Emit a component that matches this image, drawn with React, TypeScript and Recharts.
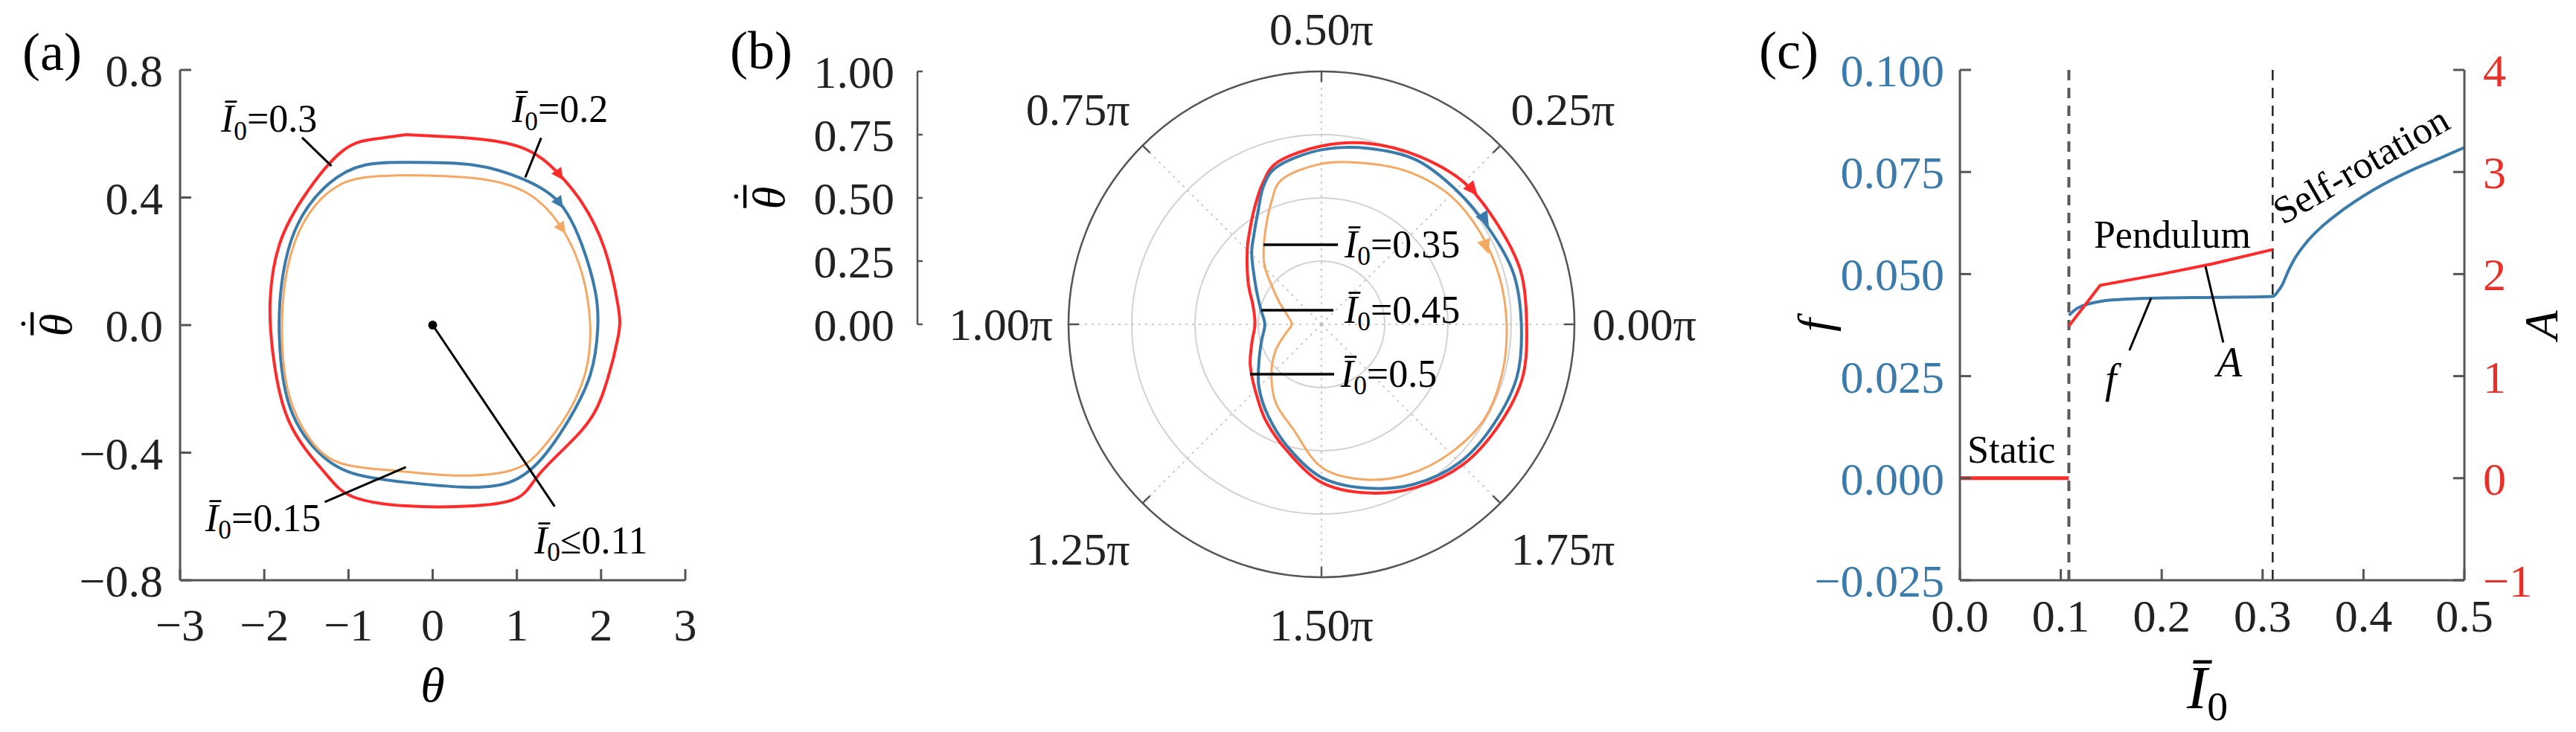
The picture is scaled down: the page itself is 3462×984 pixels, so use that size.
import React from 'react';
import {
  ComposedChart,
  LineChart,
  Line,
  XAxis,
  YAxis,
  Label,
  ReferenceLine,
  ReferenceDot,
  RadarChart,
  Radar,
  PolarGrid,
  PolarAngleAxis,
  PolarRadiusAxis,
} from 'recharts';

const SERIF = 'Liberation Serif, Tinos, DejaVu Serif, Noto Serif, serif';
const RED = '#ff2a2a';
const BLUE = '#3b7bab';
const ORANGE = '#f5a863';
const FRAME = '#555555';
const INK = '#222222';
const TICK_FONT = 62;
const NOTE_FONT = 52;

// ---------- (a) phase loops: theta vs theta-dot ----------
const thetaRed = [-0.32, 0.21, 1.02, 1.5, 1.77, 2.04, 2.2, 2.2, 2.04, 1.77, 1.29, 1.02, 0.48, -0.32, -0.96, -1.29, -1.71, -1.9, -1.93, -1.82, -1.5, -1.07, -0.7, -0.32];
const omegaRed = [0.597, 0.59, 0.56, 0.473, 0.385, 0.24, 0.063, -0.04, -0.2, -0.33, -0.46, -0.54, -0.567, -0.567, -0.537, -0.46, -0.3, -0.083, 0.078, 0.253, 0.414, 0.546, 0.583, 0.597];
const thetaBlue = [-0.32, 0.48, 1.07, 1.5, 1.77, 1.93, 1.96, 1.87, 1.61, 1.29, 0.91, 0.375, -0.32, -0.96, -1.39, -1.71, -1.82, -1.79, -1.61, -1.23, -0.8, -0.32];
const omegaBlue = [0.51, 0.502, 0.458, 0.385, 0.253, 0.107, -0.01, -0.157, -0.3, -0.42, -0.493, -0.508, -0.493, -0.464, -0.39, -0.245, -0.04, 0.136, 0.312, 0.444, 0.502, 0.51];
const thetaOrange = [-0.32, 0.48, 1.12, 1.53, 1.77, 1.87, 1.82, 1.61, 1.29, 0.91, 0.21, -0.43, -1.07, -1.45, -1.71, -1.79, -1.71, -1.45, -1.07, -0.7, -0.32];
const omegaOrange = [0.47, 0.461, 0.414, 0.305, 0.165, 0.004, -0.142, -0.274, -0.39, -0.457, -0.471, -0.457, -0.435, -0.36, -0.215, -0.01, 0.195, 0.356, 0.444, 0.466, 0.47];
const thetaTicksA = [-3, -2, -1, 0, 1, 2, 3];
const omegaTicksA = [-0.8, -0.4, 0, 0.4, 0.8];

// labels in (a): text anchor, leader start, leader end
const notesA = [
  { tail: '=0.3', tx: -2.514, ty: 0.606, x1: -1.551, y1: 0.588, x2: -1.202, y2: 0.499 },
  { tail: '=0.2', tx: 0.941, ty: 0.636, x1: 1.288, y1: 0.587, x2: 1.1, y2: 0.463 },
  { tail: '=0.15', tx: -2.7, ty: -0.646, x1: -1.282, y1: -0.555, x2: -0.318, y2: -0.445 },
  { tail: '\u22640.11', tx: 1.206, ty: -0.716, x1: 0.0, y1: 0.0, x2: 1.449, y2: -0.569 },
];
const arrowTheta = [1.5, 1.5, 1.53];
const arrowOmega = [0.473, 0.385, 0.305];
const arrowColors = [RED, BLUE, ORANGE];

// ---------- (b) polar loops ----------
const phiDeg = [0, 15, 30, 45, 60, 75, 90, 105, 112.5, 120, 127.5, 135, 150, 165, 180, 195, 210, 225, 240, 255, 270, 285, 300, 315, 330, 345];
const rRed = [0.811, 0.815, 0.8, 0.795, 0.768, 0.74, 0.705, 0.665, 0.605, 0.53, 0.466, 0.415, 0.335, 0.28, 0.263, 0.285, 0.325, 0.37, 0.44, 0.52, 0.625, 0.69, 0.745, 0.787, 0.806, 0.822];
const rBlue = [0.79, 0.785, 0.762, 0.752, 0.75, 0.72, 0.69, 0.65, 0.595, 0.505, 0.44, 0.39, 0.3, 0.25, 0.224, 0.245, 0.285, 0.35, 0.42, 0.505, 0.605, 0.67, 0.73, 0.772, 0.787, 0.8];
const rOrange = [0.732, 0.728, 0.725, 0.72, 0.695, 0.66, 0.635, 0.595, 0.52, 0.44, 0.375, 0.315, 0.2, 0.14, 0.118, 0.148, 0.21, 0.28, 0.36, 0.43, 0.565, 0.635, 0.685, 0.72, 0.745, 0.74];
const radialTicks = [0, 0.25, 0.5, 0.75, 1];
const spokeAngles = [0, 45, 90, 135, 180, 225, 270, 315];
const polarData = phiDeg.map((phi, i) => ({ phi, red: rRed[i], blue: rBlue[i], orange: rOrange[i] }));

const noteBTail = ['=0.35', '=0.45', '=0.5'];
const noteBY = [0.315, 0.056, -0.197];
const noteBFromX = [-0.229, -0.238, -0.282];
const noteBToX = [0.065, 0.047, 0.05];
const noteBTextX = [0.091, 0.091, 0.076];
// direction markers on the polar loops (x, y in units of the outer radius)
const arrowBX = [0.595, 0.644, 0.649];
const arrowBY = [0.535, 0.418, 0.311];

// ---------- (c) frequency and amplitude ----------
const staticI = [0, 0.108];
const staticA = [0, 0];
const pendI = [0.108, 0.139, 0.2, 0.25, 0.31];
const pendA = [1.49, 1.89, 2.0, 2.1, 2.24];
const freqI = [0.108, 0.115, 0.125, 0.139, 0.16, 0.19, 0.25, 0.31, 0.315, 0.32, 0.325, 0.33, 0.345, 0.36, 0.38, 0.405, 0.45, 0.475, 0.5];
const freqF = [0.0399, 0.0414, 0.0425, 0.0433, 0.0438, 0.0441, 0.0443, 0.0445, 0.0457, 0.0476, 0.0505, 0.053, 0.0582, 0.0619, 0.0658, 0.0699, 0.0757, 0.0783, 0.081];
const boundaries = [0.108, 0.31];
const iTicks = [0, 0.1, 0.2, 0.3, 0.4, 0.5];
const fTicks = [-0.025, 0, 0.025, 0.05, 0.075, 0.1];
const aTicks = [-1, 0, 1, 2, 3, 4];

const pairs = (xs: number[], ys: number[]) => xs.map((x, i) => ({ x, y: ys[i] }));
const signed = (digits: number) => (v: number) => (v < 0 ? '\u2212' : '') + Math.abs(v).toFixed(digits);

const frameLine = { stroke: FRAME, strokeWidth: 3 };

function IZero({ x, y, tail, size = NOTE_FONT }: { x: number; y: number; tail: string; size?: number }) {
  return (
    <text x={x} y={y} fontFamily={SERIF} fontSize={size} fill="#000">
      <tspan fontStyle="italic">{'\u012A'}</tspan>
      <tspan fontSize={size * 0.68} dy={size * 0.2}>0</tspan>
      <tspan dy={-size * 0.2}>{tail}</tspan>
    </text>
  );
}

// rotated theta with a bar and a dot above it (dimensionless angular velocity)
const thetaDotTitle = (dx: number, size = 62) => (p: any) => {
  const vb = p.viewBox;
  const x = vb.x + dx;
  const y = vb.y + vb.height / 2;
  const base = y + size * 0.33;
  return (
    <g transform={`rotate(-90 ${x} ${y})`}>
      <text x={x} y={base} textAnchor="middle" fontFamily={SERIF} fontStyle="italic" fontSize={size} fill="#000">
        {'\u03B8'}
      </text>
      <line x1={x - size * 0.22} x2={x + size * 0.28} y1={base - size * 0.86} y2={base - size * 0.86} stroke="#000" strokeWidth={size * 0.07} />
      <circle cx={x + size * 0.03} cy={base - size * 1.05} r={size * 0.045} fill="#000" />
    </g>
  );
};

const yTitle = (dx: number, text: string, size = 64) => (p: any) => {
  const vb = p.viewBox;
  const x = vb.x + dx;
  const y = vb.y + vb.height / 2;
  return (
    <text x={x} y={y} transform={`rotate(-90 ${x} ${y})`} textAnchor="middle" dominantBaseline="central"
      fontFamily={SERIF} fontStyle="italic" fontSize={size} fill="#000">
      {text}
    </text>
  );
};

const xTitle = (dy: number, text: string, size = 66) => (p: any) => {
  const vb = p.viewBox;
  return (
    <text x={vb.x + vb.width / 2} y={vb.y + dy} textAnchor="middle" dominantBaseline="central"
      fontFamily={SERIF} fontStyle="italic" fontSize={size} fill="#000">
      {text}
    </text>
  );
};

const arrowHead = (color: string, headingDeg = 55, L = 16, W = 8) => (p: any) => {
  const { cx, cy } = p;
  const a = (headingDeg * Math.PI) / 180; // screen heading, clockwise from +x
  const ux = Math.cos(a), uy = Math.sin(a);
  const tip = [cx + ux * L * 0.6, cy + uy * L * 0.6];
  const b1 = [cx - ux * L * 0.4 - uy * W, cy - uy * L * 0.4 + ux * W];
  const b2 = [cx - ux * L * 0.4 + uy * W, cy - uy * L * 0.4 - ux * W];
  return <polygon points={`${tip} ${b1} ${b2}`} fill={color} />;
};

function PanelA() {
  return (
    <ComposedChart width={950} height={984} margin={{ top: 94, right: 29, bottom: 54, left: 42 }}>
      <XAxis dataKey="x" type="number" domain={[-3, 3]} ticks={thetaTicksA} interval={0} height={150}
        allowDataOverflow tickFormatter={signed(0)} tickSize={-15} tickMargin={52}
        axisLine={frameLine} tickLine={frameLine} tick={{ fill: INK, fontSize: TICK_FONT, fontFamily: SERIF }}>
        <Label content={xTitle(140, '\u03B8')} />
      </XAxis>
      <XAxis xAxisId="top" orientation="top" type="number" domain={[-3, 3]} ticks={thetaTicksA} interval={0}
        height={0} tick={false} tickSize={-15} axisLine={frameLine} tickLine={frameLine} />
      <YAxis type="number" domain={[-0.8, 0.8]} ticks={omegaTicksA} interval={0} width={200} allowDataOverflow
        tickFormatter={signed(1)} tickSize={-15} tickMargin={38}
        axisLine={frameLine} tickLine={frameLine} tick={{ fill: INK, fontSize: TICK_FONT, fontFamily: SERIF }}>
        <Label content={thetaDotTitle(34)} />
      </YAxis>
      <YAxis yAxisId="right" orientation="right" type="number" domain={[-0.8, 0.8]} ticks={omegaTicksA} interval={0}
        width={0} tick={false} tickSize={-15} axisLine={frameLine} tickLine={frameLine} />

      <Line data={pairs(thetaRed, omegaRed)} dataKey="y" type="natural" stroke={RED} strokeWidth={4}
        dot={false} activeDot={false} isAnimationActive={false} />
      <Line data={pairs(thetaBlue, omegaBlue)} dataKey="y" type="natural" stroke={BLUE} strokeWidth={4}
        dot={false} activeDot={false} isAnimationActive={false} />
      <Line data={pairs(thetaOrange, omegaOrange)} dataKey="y" type="natural" stroke={ORANGE} strokeWidth={3}
        dot={false} activeDot={false} isAnimationActive={false} />

      {arrowTheta.map((t, i) => (
        <ReferenceDot key={`arr${i}`} x={t} y={arrowOmega[i]} r={6} shape={arrowHead(arrowColors[i])} />
      ))}
      <ReferenceDot x={0} y={0} r={6} fill="#000" stroke="none" />
      {notesA.map((n, i) => (
        <ReferenceLine key={`la${i}`} segment={[{ x: n.x1, y: n.y1 }, { x: n.x2, y: n.y2 }]} stroke="#000" strokeWidth={3} />
      ))}
      {notesA.map((n, i) => (
        <ReferenceDot key={`ta${i}`} x={n.tx} y={n.ty} r={1}
          shape={(p: any) => <IZero x={p.cx} y={p.cy} tail={n.tail} />} />
      ))}
    </ComposedChart>
  );
}

// closed Catmull-Rom path through the radar points
function smoothLoop(color: string, width: number) {
  return (p: any) => {
    const pts = p.points as { x: number; y: number }[];
    const n = pts.length;
    let d = `M${pts[0].x},${pts[0].y}`;
    for (let i = 0; i < n; i++) {
      const p0 = pts[(i - 1 + n) % n];
      const p1 = pts[i];
      const p2 = pts[(i + 1) % n];
      const p3 = pts[(i + 2) % n];
      d += ` C${p1.x + (p2.x - p0.x) / 6},${p1.y + (p2.y - p0.y) / 6} ${p2.x - (p3.x - p1.x) / 6},${p2.y - (p3.y - p1.y) / 6} ${p2.x},${p2.y}`;
    }
    return <path d={`${d}Z`} fill="none" stroke={color} strokeWidth={width} />;
  };
}

const angleTick = (props: any) => {
  const { x, y, payload } = props;
  const deg = Number(payload.value);
  if (!(deg < 360) || deg % 45 !== 0) return <g />;
  const rad = (deg * Math.PI) / 180;
  const c = Math.cos(rad);
  const s = Math.sin(rad);
  const px = x - c;
  const py = y + s;
  let anchor: 'start' | 'middle' | 'end' = 'middle';
  let dx = 0;
  let dy = 0;
  if (c > 0.1) {
    anchor = 'start';
    dx = c > 0.9 ? 24 : 14;
  } else if (c < -0.1) {
    anchor = 'end';
    dx = c < -0.9 ? -21 : -17;
  }
  if (s > 0.9) dy = -57;
  else if (s > 0.1) dy = -49;
  else if (s < -0.9) dy = 64;
  else if (s < -0.1) dy = 62;
  return (
    <g>
      <line x1={px} y1={py} x2={px - c * 14} y2={py + s * 14} stroke={FRAME} strokeWidth={2.5} />
      <text x={px + dx} y={py + dy} textAnchor={anchor} dominantBaseline="central" fontFamily={SERIF}
        fontSize={TICK_FONT} fill={INK}>
        {`${(deg / 180).toFixed(2)}\u03C0`}
      </text>
    </g>
  );
};

function PanelBPolar() {
  return (
    <RadarChart width={1100} height={984} cx={550} cy={436} outerRadius={340} startAngle={0} endAngle={360}
      data={polarData} margin={{ top: 0, right: 0, bottom: 0, left: 0 }}>
      <PolarGrid gridType="circle" radialLines={false} polarAngles={spokeAngles} stroke="#d2d2d2" strokeWidth={2} />
      <PolarGrid gridType="circle" polarAngles={spokeAngles} polarRadius={[]} stroke="#bcbcbc" strokeWidth={1.5}
        strokeDasharray="3 6" />
      <PolarAngleAxis dataKey="phi" type="number" domain={[0, 360]} tickCount={9} axisLineType="circle"
        axisLine={{ stroke: FRAME, strokeWidth: 2.5 }} tickLine={false} tickSize={1} tick={angleTick} />
      <PolarRadiusAxis domain={[0, 1]} ticks={radialTicks as any} tickCount={5} axisLine={false} tick={false} />
      <Radar dataKey="red" stroke={RED} fill="none" isAnimationActive={false} dot={false} shape={smoothLoop(RED, 4)} />
      <Radar dataKey="blue" stroke={BLUE} fill="none" isAnimationActive={false} dot={false} shape={smoothLoop(BLUE, 4)} />
      <Radar dataKey="orange" stroke={ORANGE} fill="none" isAnimationActive={false} dot={false} shape={smoothLoop(ORANGE, 3)} />
    </RadarChart>
  );
}

function PanelBRadial() {
  return (
    <LineChart width={290} height={984} data={radialTicks.map((v) => ({ v }))}
      margin={{ top: 96, right: 0, bottom: 548, left: 0 }}>
      <XAxis hide />
      <YAxis type="number" dataKey="v" domain={[0, 1]} ticks={radialTicks} interval={0} width={283}
        tickFormatter={(v: number) => v.toFixed(2)} tickSize={-15} tickMargin={46}
        axisLine={{ stroke: FRAME, strokeWidth: 2.5 }} tickLine={{ stroke: FRAME, strokeWidth: 2.5 }}
        tick={{ fill: INK, fontSize: TICK_FONT, fontFamily: SERIF }}>
        <Label content={thetaDotTitle(84)} />
      </YAxis>
    </LineChart>
  );
}

function PanelBNotes() {
  return (
    <ComposedChart width={680} height={680} margin={{ top: 0, right: 0, bottom: 0, left: 0 }}>
      <XAxis type="number" dataKey="x" domain={[-1, 1]} hide allowDataOverflow />
      <YAxis type="number" domain={[-1, 1]} hide allowDataOverflow />
      {noteBY.map((y, i) => (
        <ReferenceLine key={`lb${i}`} segment={[{ x: noteBFromX[i], y }, { x: noteBToX[i], y }]} stroke="#000" strokeWidth={3.5} />
      ))}
      {noteBY.map((y, i) => (
        <ReferenceDot key={`tb${i}`} x={noteBTextX[i]} y={y} r={1}
          shape={(p: any) => <IZero x={p.cx} y={p.cy + 17} tail={noteBTail[i]} />} />
      ))}
      {arrowBX.map((x, i) => (
        <ReferenceDot key={`ab${i}`} x={x} y={arrowBY[i]} r={6}
          shape={arrowHead(arrowColors[i], 50 + i * 10, 20, 9)} />
      ))}
    </ComposedChart>
  );
}

const plainNote = (text: string, italic = false, rotate = 0, size = NOTE_FONT) => (p: any) => (
  <text x={p.cx} y={p.cy} transform={rotate ? `rotate(${rotate} ${p.cx} ${p.cy})` : undefined}
    fontFamily={SERIF} fontStyle={italic ? 'italic' : 'normal'} fontSize={size} fill="#000">
    {text}
  </text>
);

function PanelC() {
  const tickFont = { fontSize: TICK_FONT, fontFamily: SERIF };
  return (
    <ComposedChart width={1282} height={984} margin={{ top: 94, right: 30, bottom: 54, left: 254 }}>
      <XAxis xAxisId="b" dataKey="x" type="number" domain={[0, 0.5]} ticks={iTicks} interval={0} height={150}
        allowDataOverflow tickFormatter={(v: number) => v.toFixed(1)} tickSize={-15} tickMargin={40}
        axisLine={frameLine} tickLine={frameLine} tick={{ ...tickFont, fill: INK }}>
        <Label content={(p: any) => {
          const vb = p.viewBox;
          return <IZero x={vb.x + vb.width / 2 - 34} y={vb.y + 172} tail="" size={82} />;
        }} />
      </XAxis>
      <XAxis xAxisId="t" orientation="top" type="number" domain={[0, 0.5]} ticks={iTicks} interval={0}
        height={0} tick={false} tickSize={-15} axisLine={frameLine} tickLine={frameLine} />
      <YAxis yAxisId="f" type="number" domain={[-0.025, 0.1]} ticks={fTicks} interval={0} width={200}
        allowDataOverflow tickFormatter={signed(3)} tickSize={-15} tickMargin={36}
        axisLine={frameLine} tickLine={frameLine} tick={{ ...tickFont, fill: BLUE }}>
        <Label content={yTitle(4, 'f')} />
      </YAxis>
      <YAxis yAxisId="A" orientation="right" type="number" domain={[-1, 4]} ticks={aTicks} interval={0} width={120}
        allowDataOverflow tickFormatter={signed(0)} tickSize={-15} tickMargin={40}
        axisLine={frameLine} tickLine={frameLine} tick={{ ...tickFont, fill: '#e8302a' }}>
        <Label content={yTitle(103, 'A')} />
      </YAxis>

      <ReferenceLine xAxisId="b" yAxisId="f" x={boundaries[0]} stroke="#5a5a5a" strokeWidth={4} strokeDasharray="14 10" />
      <ReferenceLine xAxisId="b" yAxisId="f" x={boundaries[1]} stroke="#222" strokeWidth={2.5} strokeDasharray="14 10" />

      <Line xAxisId="b" yAxisId="f" data={pairs(freqI, freqF)} dataKey="y" type="monotone" stroke={BLUE} strokeWidth={4}
        dot={false} activeDot={false} isAnimationActive={false} />
      <Line xAxisId="b" yAxisId="A" data={pairs(staticI, staticA)} dataKey="y" type="linear" stroke={RED} strokeWidth={5}
        dot={false} activeDot={false} isAnimationActive={false} />
      <Line xAxisId="b" yAxisId="A" data={pairs(pendI, pendA)} dataKey="y" type="linear" stroke={RED} strokeWidth={4}
        dot={false} activeDot={false} isAnimationActive={false} />

      <ReferenceLine xAxisId="b" yAxisId="f" segment={[{ x: 0.1895, y: 0.0441 }, { x: 0.168, y: 0.0313 }]} stroke="#000" strokeWidth={3} />
      <ReferenceLine xAxisId="b" yAxisId="A" segment={[{ x: 0.2434, y: 2.076 }, { x: 0.261, y: 1.33 }]} stroke="#000" strokeWidth={3} />

      <ReferenceDot xAxisId="b" yAxisId="A" x={0.0074} y={0.154} r={1} shape={plainNote('Static')} />
      <ReferenceDot xAxisId="b" yAxisId="A" x={0.1327} y={2.258} r={1} shape={plainNote('Pendulum')} />
      <ReferenceDot xAxisId="b" yAxisId="A" x={0.32} y={2.477} r={1} shape={plainNote('Self-rotation', false, -30)} />
      <ReferenceDot xAxisId="b" yAxisId="f" x={0.1438} y={0.0209} r={1} shape={plainNote('f', true, 0, 56)} />
      <ReferenceDot xAxisId="b" yAxisId="A" x={0.2544} y={0.997} r={1} shape={plainNote('A', true, 0, 56)} />
    </ComposedChart>
  );
}

export default function App() {
  return (
    <div style={{ position: 'absolute', left: 0, top: 0, width: 3462, height: 984, background: '#fff', overflow: 'hidden' }}>
      <div style={{ position: 'absolute', left: 0, top: 0 }}><PanelA /></div>
      <div style={{ position: 'absolute', left: 950, top: 0 }}><PanelBRadial /></div>
      <div style={{ position: 'absolute', left: 1226, top: 0 }}><PanelBPolar /></div>
      <div style={{ position: 'absolute', left: 1436, top: 96 }}><PanelBNotes /></div>
      <div style={{ position: 'absolute', left: 2180, top: 0 }}><PanelC /></div>
      <svg width={3462} height={984} style={{ position: 'absolute', left: 0, top: 0, pointerEvents: 'none' }}>
        <g fontFamily={SERIF} fontSize={72} fill="#000">
          <text x={30} y={94}>(a)</text>
          <text x={981} y={92}>(b)</text>
          <text x={2364} y={92}>(c)</text>
        </g>
      </svg>
    </div>
  );
}
